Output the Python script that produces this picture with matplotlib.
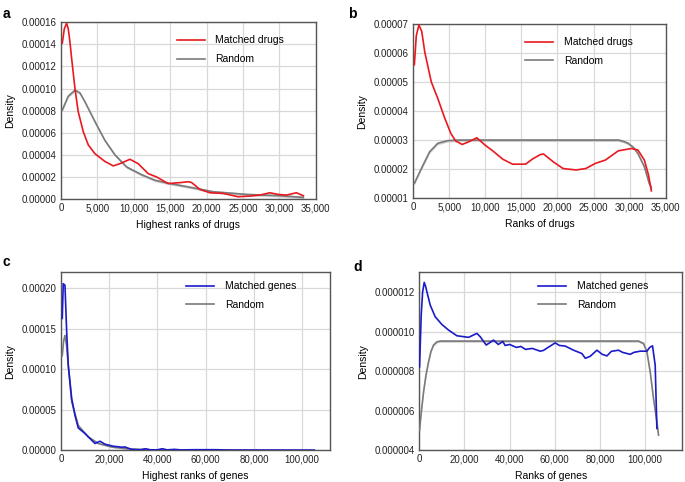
import numpy as np
import matplotlib
matplotlib.use("Agg")
import matplotlib.pyplot as plt
from matplotlib.ticker import FuncFormatter

plt.rcParams['font.family'] = ['Liberation Sans', 'DejaVu Sans']

# panel a: highest ranks of drugs
a_red_x = [180, 460, 780, 1000, 1235, 1470, 1920, 2370, 3060, 3750, 4670, 6040,
           7180, 8100, 9470, 10610, 11980, 13130, 14730, 16560, 17470, 17930,
           19080, 20450, 22280, 24340, 25940, 27310, 28690, 29830, 30970,
           32340, 33300]
a_red_y = [1.41e-4, 1.54e-4, 1.59e-4, 1.54e-4, 1.42e-4, 1.27e-4, 1.00e-4, 7.9e-5,
           6.1e-5, 4.9e-5, 4.1e-5, 3.4e-5, 3.0e-5, 3.2e-5, 3.6e-5, 3.2e-5,
           2.3e-5, 2.0e-5, 1.4e-5, 1.5e-5, 1.57e-5, 1.5e-5, 8.8e-6, 5.7e-6,
           5.1e-6, 2.1e-6, 2.7e-6, 3.6e-6, 5.7e-6, 4.2e-6, 3.6e-6, 5.7e-6, 3.0e-6]
a_gray_x = [180, 1000, 1920, 2600, 3290, 4670, 6040, 7410, 9010, 11080, 12900,
            14960, 17470, 20900, 25480, 30060, 33300]
a_gray_y = [8.05e-5, 9.3e-5, 9.85e-5, 9.6e-5, 8.8e-5, 7.0e-5, 5.3e-5, 4.0e-5,
            2.9e-5, 2.2e-5, 1.7e-5, 1.4e-5, 1.1e-5, 6.6e-6, 4.2e-6, 3.0e-6, 1.5e-6]

# panel b: ranks of drugs
b_red_x = [180, 450, 810, 1200, 1620, 2520, 3420, 4320, 5230, 5900, 6800, 7700,
           8830, 9960, 11080, 12430, 13780, 15580, 16490, 17610, 18070, 19420,
           20770, 22570, 23920, 25270, 26620, 28420, 30230, 31130, 32030, 32600,
           33000]
b_red_y = [5.6e-5, 6.6e-5, 6.97e-5, 6.75e-5, 6.04e-5, 5.01e-5, 4.44e-5, 3.8e-5,
           3.23e-5, 2.97e-5, 2.85e-5, 2.94e-5, 3.08e-5, 2.83e-5, 2.62e-5,
           2.34e-5, 2.17e-5, 2.17e-5, 2.34e-5, 2.5e-5, 2.52e-5, 2.25e-5,
           2.02e-5, 1.97e-5, 2.02e-5, 2.2e-5, 2.31e-5, 2.63e-5, 2.71e-5,
           2.66e-5, 2.31e-5, 1.8e-5, 1.25e-5]
b_gray_x = [180, 1170, 2300, 3420, 4770, 6500, 10000, 20000, 28420, 29100, 29770,
            30500, 31130, 32030, 32700, 33000]
b_gray_y = [1.51e-5, 2.03e-5, 2.6e-5, 2.89e-5, 2.98e-5, 3.0e-5, 3.0e-5, 3.0e-5,
            3.0e-5, 2.96e-5, 2.89e-5, 2.75e-5, 2.54e-5, 2.08e-5, 1.51e-5, 1.35e-5]

# panel c: highest ranks of genes
c_blue_x = [540, 950, 1660, 2370, 3030, 4440, 5810, 7180, 9960, 12030, 14110,
            16180, 18260, 21700, 25180, 26500, 29260, 33000, 35000, 37000,
            40000, 42000, 44000, 47000, 50000, 55000, 64000, 70000, 105000]
c_blue_y = [1.63e-4, 2.06e-4, 2.04e-4, 1.46e-4, 1.05e-4, 6.4e-5, 4.3e-5, 2.75e-5,
            2.06e-5, 1.44e-5, 8.3e-6, 1.11e-5, 7.4e-6, 4.9e-6, 3.7e-6, 4.0e-6,
            1.0e-6, 5e-7, 1.8e-6, 4e-7, 5e-7, 1.8e-6, 4e-7, 1.0e-6, 3e-7, 6e-7,
            6e-7, 1e-7, 0.0]
c_gray_x = [540, 1100, 1660, 2300, 3030, 4440, 7180, 11320, 15470, 21000, 27900,
            40000, 105000]
c_gray_y = [1.17e-4, 1.35e-4, 1.42e-4, 1.3e-4, 1.05e-4, 6.0e-5, 3.05e-5, 1.65e-5,
            8.3e-6, 4.0e-6, 1.5e-6, 3e-7, 0.0]

# panel d: ranks of genes
d_blue_x = [150, 500, 880, 1500, 2210, 2800, 3390, 4870, 7080, 10040, 12960,
            16670, 21830, 25520, 27000, 29650, 32890, 35000, 37000, 38000, 40000,
            43000, 45000, 47000, 50000, 53540, 55000, 57000, 60180, 62000, 64600,
            68290, 71990, 73500, 75660, 78630, 81000, 83050, 85000, 88190, 90000,
            93360, 95000, 97790, 100750, 102000, 103240, 104420, 105170]
d_blue_y = [8.22e-6, 9.5e-6, 1.084e-5, 1.2e-5, 1.249e-5, 1.23e-5, 1.202e-5,
            1.134e-5, 1.075e-5, 1.036e-5, 1.008e-5, 9.79e-6, 9.71e-6, 9.91e-6,
            9.74e-6, 9.32e-6, 9.57e-6, 9.35e-6, 9.5e-6, 9.3e-6, 9.35e-6, 9.2e-6,
            9.25e-6, 9.1e-6, 9.15e-6, 9.01e-6, 9.05e-6, 9.2e-6, 9.43e-6, 9.3e-6,
            9.27e-6, 9.06e-6, 8.89e-6, 8.65e-6, 8.75e-6, 9.06e-6, 8.85e-6,
            8.77e-6, 9.0e-6, 9.06e-6, 8.95e-6, 8.85e-6, 8.95e-6, 9.01e-6,
            9.01e-6, 9.2e-6, 9.28e-6, 8.3e-6, 5.1e-6]
d_gray_x = [150, 900, 1920, 3000, 4130, 5200, 6330, 7800, 9290, 20000, 50000,
            80000, 97050, 99250, 100750, 102210, 103670, 105180, 105900]
d_gray_y = [5.01e-6, 5.9e-6, 6.95e-6, 7.8e-6, 8.47e-6, 9.0e-6, 9.32e-6, 9.48e-6,
            9.52e-6, 9.52e-6, 9.52e-6, 9.52e-6, 9.52e-6, 9.4e-6, 8.98e-6,
            7.96e-6, 6.62e-6, 5.43e-6, 4.76e-6]

RED = '#e8191f'
BLUE = '#1b1bc8'
GRAY = '#7a7a7a'
BAND = '#d0d0d0'


def style(ax, xlim, ylim, xticks, yticks, ydec, xlabel):
    ax.set_xlim(*xlim)
    ax.set_ylim(*ylim)
    ax.set_xticks(xticks)
    ax.set_yticks(yticks)
    ax.xaxis.set_major_formatter(FuncFormatter(lambda v, p: f'{v:,.0f}'))
    ax.yaxis.set_major_formatter(FuncFormatter(lambda v, p: f'{v:.{ydec}f}'))
    ax.grid(True, color='#d8d8d8', linewidth=0.9)
    ax.set_axisbelow(True)
    ax.tick_params(length=0, labelsize=7, pad=3, colors='#222222')
    for s in ax.spines.values():
        s.set_color('#555555')
        s.set_linewidth(1.0)
    ax.set_xlabel(xlabel, fontsize=7.5, labelpad=5)
    ax.set_ylabel('Density', fontsize=7.5, labelpad=5)


def draw(ax, mx, my, gx, gy, color, label, band, leg_xy):
    gx = np.array(gx)
    gy = np.array(gy)
    ax.fill_between(gx, gy - band, gy + band, color=BAND, lw=0, zorder=2)
    ax.plot(mx, my, color=color, lw=1.2, label=label, zorder=4,
            solid_joinstyle='round')
    ax.plot(gx, gy, color=GRAY, lw=1.2, label='Random', zorder=3,
            solid_joinstyle='round')
    ax.legend(loc='upper left', bbox_to_anchor=leg_xy, frameon=False,
              fontsize=7.5, handlelength=2.7, handletextpad=1.0,
              labelspacing=0.85, borderpad=0, borderaxespad=0)


fig = plt.figure(figsize=(6.85, 4.82), dpi=100)

ax_a = fig.add_axes([0.089, 0.587, 0.372, 0.367])
draw(ax_a, a_red_x, a_red_y, a_gray_x, a_gray_y, RED, 'Matched drugs', 1.2e-6,
     (0.455, 0.925))
style(ax_a, (0, 35000), (0, 0.00016), np.arange(0, 35001, 5000),
      np.arange(0, 0.000161, 0.00002), 5, 'Highest ranks of drugs')

ax_b = fig.add_axes([0.603, 0.589, 0.369, 0.361])
draw(ax_b, b_red_x, b_red_y, b_gray_x, b_gray_y, RED, 'Matched drugs', 5e-7,
     (0.444, 0.925))
style(ax_b, (0, 35000), (0.00001, 0.00007), np.arange(0, 35001, 5000),
      np.arange(0.00001, 0.0000701, 0.00001), 5, 'Ranks of drugs')

ax_c = fig.add_axes([0.089, 0.066, 0.393, 0.369])
draw(ax_c, c_blue_x, c_blue_y, c_gray_x, c_gray_y, BLUE, 'Matched genes', 1e-6,
     (0.465, 0.95))
style(ax_c, (0, 111600), (0, 0.00022), np.arange(0, 100001, 20000),
      np.arange(0, 0.000201, 0.00005), 5, 'Highest ranks of genes')

ax_d = fig.add_axes([0.612, 0.066, 0.384, 0.369])
draw(ax_d, d_blue_x, d_blue_y, d_gray_x, d_gray_y, BLUE, 'Matched genes', 6e-8,
     (0.452, 0.95))
style(ax_d, (0, 116400), (0.000004, 0.000013), np.arange(0, 100001, 20000),
      np.arange(0.000004, 0.0000121, 0.000002), 6, 'Ranks of genes')

for lab, x, y in [('a', 0.004, 0.985), ('b', 0.508, 0.985),
                  ('c', 0.004, 0.47), ('d', 0.516, 0.46)]:
    fig.text(x, y, lab, fontsize=10, fontweight='bold', va='top')

fig.savefig('out.png', dpi=100)
